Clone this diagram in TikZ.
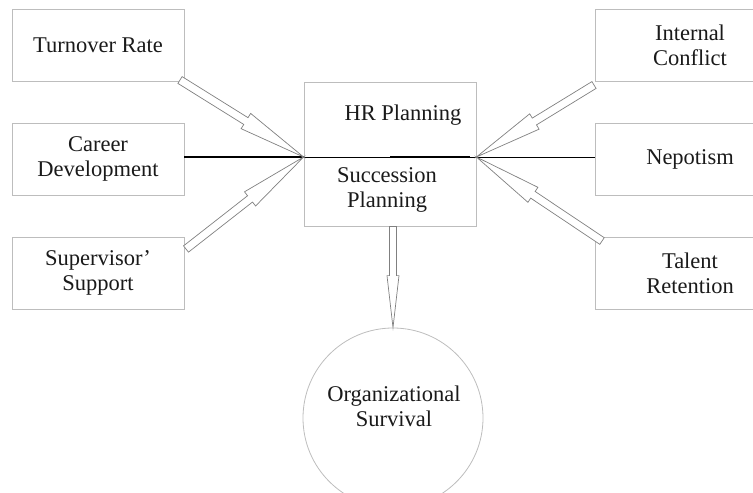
\documentclass[tikz,border=0pt]{standalone}
\usepackage{fontspec}
\setmainfont{Liberation Serif}
\usetikzlibrary{calc}
\definecolor{boxgray}{HTML}{BDBDBD}
\definecolor{arrgray}{HTML}{808080}
\definecolor{txt}{HTML}{1A1A1A}
\newcommand\blockarr[5]{%
  \coordinate (bah) at ($(#2)!#5!(#1)$);
  \draw[blockarrow] ($(#1)!#3!90:(#2)$) -- ($(bah)!#3!90:(#2)$) -- ($(bah)!#4!90:(#2)$) -- (#2)
    -- ($(bah)!#4!-90:(#2)$) -- ($(bah)!#3!-90:(#2)$) -- ($(#1)!#3!-90:(#2)$) -- cycle;}
\begin{document}
\begin{tikzpicture}[x=1pt,y=-1pt,
  box/.style={draw=boxgray,line width=0.8pt,minimum width=172pt,minimum height=72pt,inner sep=0pt,align=center,font=\fontsize{22.5}{25}\selectfont,text=txt},
  lbl/.style={inner sep=0pt,align=center,font=\fontsize{22.5}{25}\selectfont,text=txt},
  blockarrow/.style={draw=arrgray,line width=0.7pt,fill=white,line join=miter}]
\useasboundingbox (0,0) rectangle (753,493);
\node[box] (tr) at (98,45) {Turnover Rate};
\node[box] (cd) at (98,159) {Career\\Development};
\node[box] (ss) at (98,273) {Supervisor’\\Support};
\node[box,minimum width=190pt] (ic) at (690,45) {Internal\\Conflict};
\node[box,minimum width=190pt] (np) at (690,159) {Nepotism};
\node[box,minimum width=190pt] (tl) at (690,273) {Talent\\Retention};
\node[draw=boxgray,line width=0.8pt,minimum width=172pt,minimum height=144pt,inner sep=0pt] (hub) at (390,154) {};
\node[lbl] (hrp) at (403,115) {HR Planning};
\node[lbl] (sp) at (387,190) {Succession\\Planning};
\node[circle,draw=boxgray,line width=0.8pt,minimum size=180pt,inner sep=0pt] (surv) at (393,418) {};
\node[lbl] (survt) at (394,406) {Organizational\\Survival};
\coordinate (hubl) at ($(hub.west)+(0,3)$);
\coordinate (hubr) at ($(hub.east)+(0,3)$);
\draw[line width=1.6pt] (cd.east |- hubl) -- (hubl);
\draw[line width=1pt] (hubl) -- (hubr);
\draw[line width=0.7pt] (hubr) -- (np.west |- hubr);
\draw[line width=2.5pt] ($(hub.center)+(0,3)$) -- ($(hubr)+(-6,0)$);
\coordinate (trt) at (180,80);
\coordinate (sst) at (186,249);
\coordinate (ict) at (594,85);
\coordinate (tlt) at (602,241);
\blockarr{trt}{hubl}{4pt}{9pt}{68pt}
\blockarr{sst}{hubl}{4pt}{9pt}{68pt}
\blockarr{ict}{hubr}{4pt}{9pt}{68pt}
\blockarr{tlt}{hubr}{4pt}{9pt}{68pt}
\coordinate (dt) at (surv.north |- hub.south);
\blockarr{dt}{surv.north}{3.5pt}{6pt}{52pt}
\end{tikzpicture}
\end{document}
